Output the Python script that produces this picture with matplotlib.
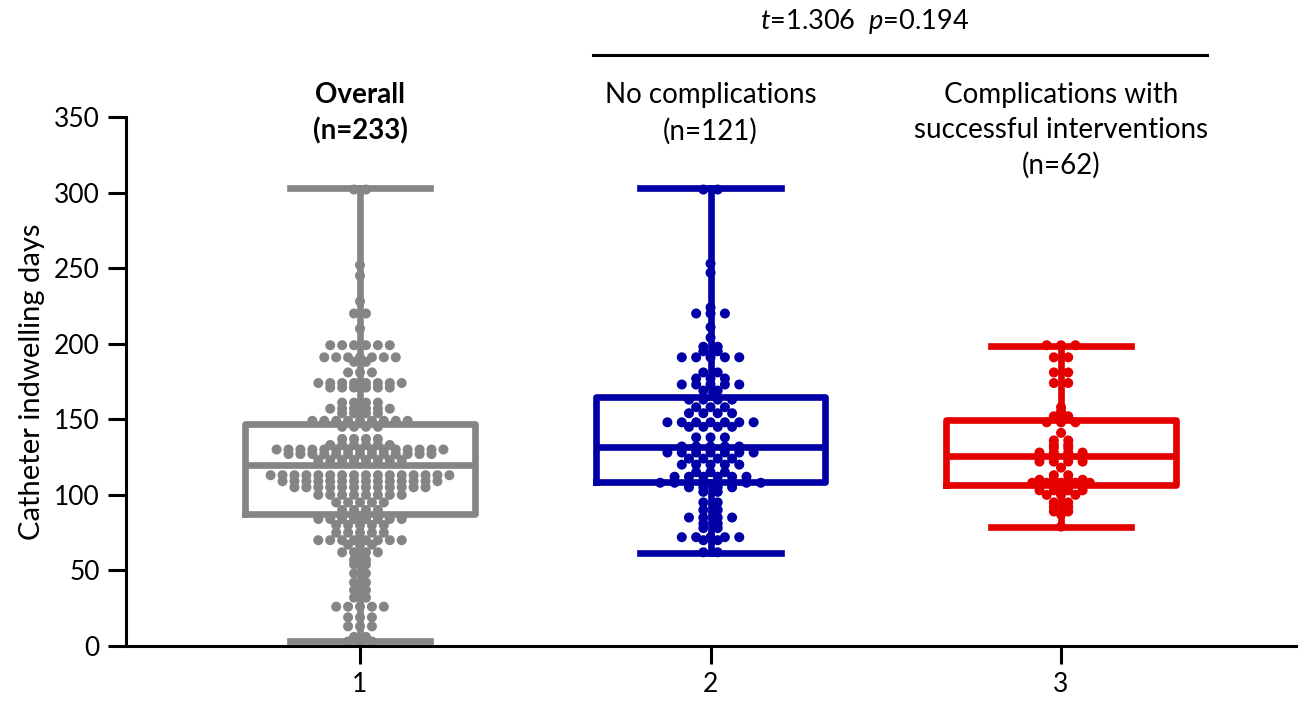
import matplotlib
matplotlib.use("Agg")
import matplotlib.pyplot as plt
import numpy as np

plt.rcParams['font.family'] = ['Lato', 'DejaVu Sans']
plt.rcParams['mathtext.fontset'] = 'custom'
plt.rcParams['mathtext.rm'] = 'Lato'
plt.rcParams['mathtext.it'] = 'Lato:italic'

# ---------------- data ----------------
categories = [1, 2, 3]
tick_labels = ["1", "2", "3"]
group_titles = ["Overall\n(n=233)", "No complications\n(n=121)",
                "Complications with\nsuccessful interventions\n(n=62)"]

overall = ([302, 302, 252, 245, 228, 220, 220, 210]
           + [199]*6 + [191]*7 + [188]*2 + [181]*3 + [174]*8 + [171]*6
           + [161]*4 + [157]*6 + [154]*4
           + [149]*9 + [145]*4
           + [137]*4 + [133]*6 + [130]*15 + [127]*13 + [123]*8
           + [113]*16 + [109]*14 + [105]*12 + [100]*8 + [95]*5 + [90]*4
           + [84]*8 + [80]*5 + [75]*5 + [70]*8 + [67]*3 + [62]*4 + [57]*2
           + [54]*2 + [48]*2 + [42]*2 + [37]*2 + [32]*2 + [26]*5 + [19]*3
           + [13]*3 + [6]*2 + [3]*3)

no_comp = ([302]*2 + [253, 247, 224] + [220]*3 + [211, 204]
           + [198]*2 + [195]*2 + [191]*5 + [181]*2 + [177]*3 + [173]*5
           + [169]*2 + [163]*4 + [158]*3 + [154]*4 + [148]*7 + [145]*4
           + [138]*3 + [132]*5 + [128]*7 + [124]*4 + [120]*5 + [115]*3
           + [112]*6 + [108]*8 + [105]*4 + [102]*2 + [95]*2 + [90]*2
           + [85]*4 + [81]*2 + [78]*2 + [72]*5 + [70]*2 + [62]*2)

comp_success = ([199]*3 + [191]*2 + [181]*2 + [174]*2 + [158, 155]
                + [152]*2 + [148]*3 + [141] + [136]*2 + [133]*2 + [131]*2
                + [128]*4 + [125]*4 + [122]*4 + [118] + [113]*2 + [110]*4
                + [108]*5 + [103]*4 + [100]*3 + [95]*2 + [92]*2 + [89]*2
                + [87, 79])

# box statistics (min, Q1, median, Q3, max)
whis_lo = [3, 61.5, 79]
q1 = [87.5, 108.5, 106.5]
medians = [120, 131.5, 125.5]
q3 = [147, 165, 149.5]
whis_hi = [303, 303, 198.5]

colors = ['#858585', '#0000A6', '#E50000']
spacing = [0.034, 0.041, 0.041]

stat_text = r"$t$=1.306  $p$=0.194"

# ---------------- figure ----------------
fig = plt.figure(figsize=(12.98, 7.01), dpi=100)
ax = fig.add_axes([126/1298, 55/701, 1 - 126/1298, (646-117)/701])

groups = [overall, no_comp, comp_success]

# dots, arranged in rows of equal values
for xc, vals, col, sp in zip(categories, groups, colors, spacing):
    vals = np.asarray(vals, dtype=float)
    xs, ys = [], []
    for v in np.unique(vals):
        n = int(np.sum(vals == v))
        offs = (np.arange(n) - (n - 1) / 2) * sp
        xs.extend(xc + offs)
        ys.extend([v]*n)
    ax.scatter(xs, ys, s=52, color=col, edgecolors='none', zorder=2)

stats = []
for i in range(3):
    stats.append(dict(med=medians[i], q1=q1[i], q3=q3[i],
                      whislo=whis_lo[i], whishi=whis_hi[i], fliers=[]))

for i in range(3):
    lw = 4.8
    col = colors[i]
    ax.bxp([stats[i]], positions=[categories[i]], widths=0.656,
           capwidths=0.4, showfliers=False, manage_ticks=False,
           boxprops=dict(color=col, linewidth=lw),
           whiskerprops=dict(color=col, linewidth=lw),
           capprops=dict(color=col, linewidth=lw),
           medianprops=dict(color=col, linewidth=lw))

ax.set_xlim(0.3324, 3.676)
ax.set_ylim(0, 350)
ax.set_xticks(categories)
ax.set_xticklabels(tick_labels)
ax.set_yticks(np.arange(0, 351, 50))

for s in ['top', 'right']:
    ax.spines[s].set_visible(False)
for s in ['left', 'bottom']:
    ax.spines[s].set_linewidth(2.2)
ax.tick_params(axis='both', direction='out', length=13, width=2.2,
               labelsize=19, pad=6)
ax.set_ylabel("Catheter indwelling days", fontsize=21, labelpad=6)

# group titles
for i, (xc, t) in enumerate(zip(categories, group_titles)):
    ax.text(xc, 373, t, ha='center', va='top', fontsize=20,
            fontweight='bold' if i == 0 else 'normal',
            linespacing=1.42, clip_on=False)

# significance bar
ax.plot([1.665, 3.417], [391, 391], color='black', lw=2.2, clip_on=False)
ax.text(2.44, 413, stat_text, ha='center', va='center', fontsize=19.5,
        clip_on=False)

fig.savefig("out.png", dpi=100)
